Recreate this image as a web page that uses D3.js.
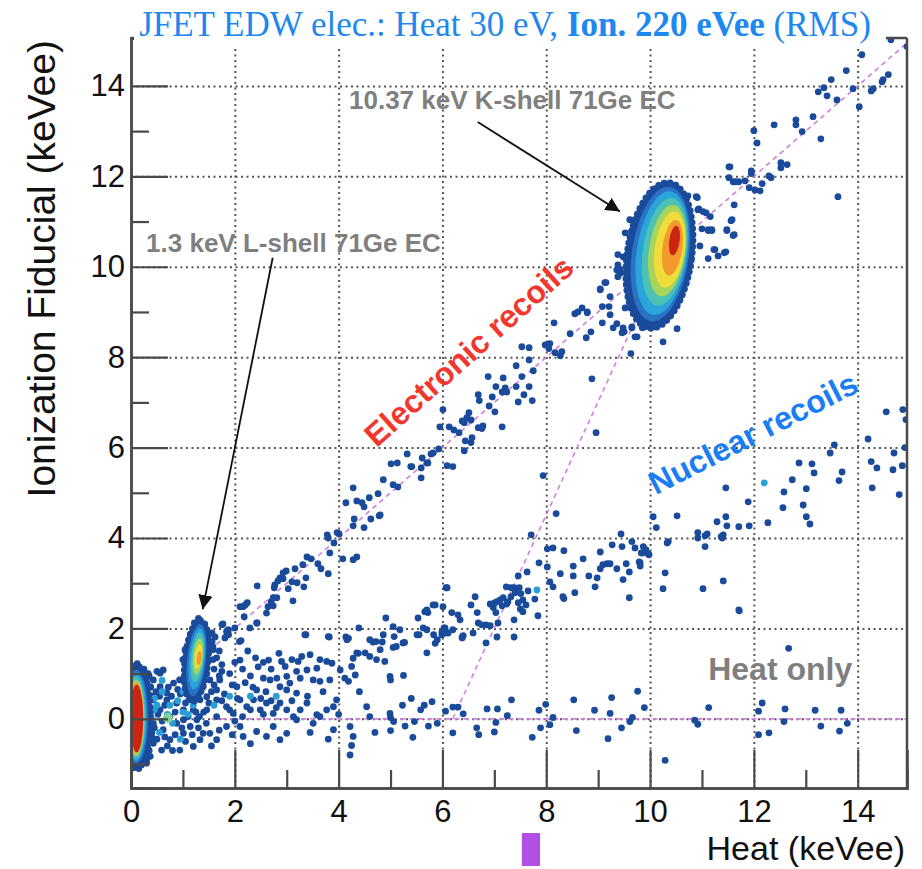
<!DOCTYPE html>
<html>
<head>
<meta charset="utf-8">
<script src="https://cdn.jsdelivr.net/npm/d3@7"></script>
<style>
body { margin: 0; background: #fff; }
svg { display: block; font-family: "Liberation Sans", Arial, Helvetica, sans-serif; }
</style>
</head>
<body>
<svg width="922" height="869"></svg>
<script>
// tick values
var xMajor = [0, 2, 4, 6, 8, 10, 12, 14],
    xMinor = [1, 3, 5, 7, 9, 11, 13],
    yMajor = [0, 2, 4, 6, 8, 10, 12, 14],
    yMinor = [-1, 1, 3, 5, 7, 9, 11, 13];

// event populations, [heat, ionization] in keVee
var erBand = [
  [1.77,2.10],[1.87,1.97],[1.85,1.86],[1.81,1.79],[1.62,1.81],[1.56,1.70],[1.58,1.59],
  [2.12,1.73],[2.00,2.01],[2.43,2.12],[2.29,2.01],[2.18,2.26],[2.10,2.48],[2.16,2.48],[2.24,2.57],[2.43,2.94],
  [2.61,2.34],[2.74,2.50],[2.20,2.52],[2.74,2.68],[2.70,2.59],[2.64,2.48],[2.81,2.68],
  [3.33,2.92],[3.37,3.12],[3.03,2.88],[3.12,2.61],[3.16,3.32],[2.99,3.27],[2.93,3.23],[2.87,3.12],
  [2.83,3.05],[2.93,3.10],[2.77,2.96],[2.76,2.90],[3.10,3.03],[3.20,3.01],
  [3.39,3.58],[3.47,3.54],[3.31,3.41],[3.60,3.43],[3.66,3.32],[3.80,3.21],
  [3.83,3.67],[4.08,3.54],[4.28,3.52],[4.35,3.58],[3.78,4.07],[3.80,4.00],[3.97,4.12],[4.01,4.09],[3.91,3.89],
  [4.30,4.42],[4.28,4.27],[4.49,4.23],[4.62,4.42],[4.78,4.49],[4.80,4.51],
  [4.14,4.78],[4.35,4.82],[4.45,4.78],[4.49,4.69],[4.59,4.89],[4.76,4.98],
  [4.28,5.11],[4.86,5.29],[5.05,5.18],[5.14,5.13],[5.01,5.64],[5.13,5.66],[5.39,5.58],[5.59,5.55],[5.72,5.66],
  [5.32,5.86],[5.41,5.58],[5.61,5.77],[5.70,5.66],[5.59,5.33],[6.09,5.60],[6.20,5.58],
  [5.93,5.97],[5.82,5.88],[5.78,5.86],[6.44,6.15],[6.57,6.22],[6.55,6.11],[6.42,5.93],
  [5.95,6.46],[6.13,6.46],[6.22,6.39],[6.32,6.33],[6.69,6.44],[6.78,6.48],[6.76,6.42],
  [6.51,6.77],[6.47,6.66],[6.38,6.59],[6.42,6.55],[6.55,6.61],[6.01,6.84],
  [7.15,6.46],[6.69,7.17],[6.71,7.04],[6.96,7.12],[6.90,6.92],[7.01,6.79],
  [7.21,7.32],[7.24,7.23],[7.15,7.23],[7.17,7.54],[7.03,7.35],[6.88,7.57],
  [7.67,7.35],[7.57,7.17],[7.46,7.01],[7.42,7.35],[7.73,7.04],
  [7.67,7.94],[7.75,7.70],[7.53,7.57],[7.42,7.81],[7.53,8.23],[7.67,8.21],
  [7.98,8.27],[8.07,8.30],[8.05,8.19],[8.17,8.10],[8.27,8.03],[8.30,8.12],
  [8.15,8.76],[8.46,8.52],[8.55,8.96],[8.61,9.00],[8.69,9.09],[8.79,8.98],[8.77,8.43],[8.86,8.56],
  [9.08,8.76],[9.29,8.65],[9.36,8.74],[9.50,8.56],[9.65,8.67],[9.75,8.45],[9.85,8.65],
  [9.52,9.09],[9.61,9.27],[9.73,9.00],[9.63,8.08],[9.04,9.51],[9.15,9.65],[9.38,10.04],[9.42,9.85],[9.21,9.12],
  [8.88,7.52],[8.96,6.33],[7.94,5.38],
  [14.64,15.02],[14.95,14.87],[13.78,14.34],[13.49,14.14],[13.35,13.96],[13.24,13.87],[13.41,13.78],[13.60,13.69],
  [13.91,13.94],[14.03,13.54],[14.26,13.89],[14.30,13.94],[14.49,14.14],[14.47,14.09],[14.59,14.25],[14.08,14.69],
  [13.14,13.32],[12.81,13.25],[12.81,13.14],[12.93,12.99],[13.29,12.83],[12.39,13.14],[12.00,13.01],[12.06,12.74],
  [11.52,12.21],[12.52,12.30],[12.64,12.26],[12.52,12.19],[11.95,12.12],[11.95,12.06],[11.52,11.97],
  [11.64,11.88],[11.71,11.88],[11.83,11.90],[11.91,11.75],[12.02,11.70],[12.12,11.68],[12.16,11.84],
  [12.29,12.01],[12.33,11.97],[13.62,11.55],[11.62,11.37],[10.94,11.28],[11.08,11.19],[11.16,11.11],
  [11.56,11.02],[11.00,10.84],[11.12,10.80],[11.19,10.80],[11.48,10.80],[11.60,10.69],[11.62,10.71],
  [10.96,10.46],[11.23,10.38],[11.31,10.24],[11.46,10.33],[11.12,10.18]
];

var kShellEdge = [
  [9.61,11.04],[9.52,10.75],[9.48,10.22],[9.42,9.93],[9.38,9.78],[9.56,9.65],[9.65,9.49],[9.61,9.34],
  [9.75,9.20],[9.81,8.89],[10.06,8.78],[10.19,8.76],[10.52,8.63],[10.25,8.34],[10.91,11.53],[10.92,11.26],
  [11.02,11.22],[11.12,10.82],[11.19,10.82],[11.54,12.21],[11.60,11.88],[11.58,11.04],[11.48,10.82],
  [11.25,10.38],[11.43,10.31],[9.04,9.49],[9.13,9.65],[9.23,9.34],[9.08,9.12],[8.79,9.00],
  [9.23,8.94],[9.48,8.65],[9.65,8.65],[9.46,8.54],[9.71,8.45],[9.36,9.93],[9.38,10.27],[10.73,11.57],[10.89,11.55]
];

var nrBand = [
  [3.37,1.86],[3.82,1.81],[4.14,1.81],[4.39,2.01],[4.60,1.75],[4.66,1.70],[4.86,1.86],[4.91,2.23],
  [5.05,2.04],[5.07,1.82],[5.18,1.97],[5.24,1.68],[5.53,2.23],[5.66,2.37],[5.72,2.35],[5.55,1.86],
  [5.70,1.46],[5.82,2.52],[5.90,1.75],[5.99,1.86],[6.05,2.01],[6.09,2.90],[6.11,1.90],[4.84,1.70],
  [4.16,1.75],[4.35,1.46],[4.51,1.46],[5.11,1.60],[5.27,1.69],[5.51,1.86],[5.63,2.01],[5.70,1.97],
  [5.83,1.86],[5.86,1.67],[5.86,2.52],[5.70,2.41],
  [8.19,4.54],[7.71,4.07],[8.02,3.76],[8.13,3.78],[8.34,3.72],[8.71,3.54],[9.04,3.69],[9.27,3.85],
  [9.44,4.09],[9.46,3.81],[9.65,3.92],[9.71,3.78],[9.83,3.67],[9.92,3.74],[9.96,3.65],
  [7.86,3.45],[7.63,3.25],[7.46,3.16],[8.02,3.36],[8.27,3.21],[8.52,3.38],[8.52,3.16],[8.82,3.16],
  [8.98,3.12],[9.04,3.32],[9.09,3.41],[9.17,3.43],[9.23,3.43],[9.36,3.32],[9.54,3.43],[9.60,3.25],
  [9.48,3.08],[9.79,3.47],[9.81,3.38],[8.07,3.03],[8.13,2.92],[8.32,2.70],[8.34,2.66],[8.55,2.79],
  [8.94,2.92],[9.60,2.68],
  [7.23,2.92],[7.32,2.90],[7.38,2.90],[7.48,2.90],[7.40,2.79],[7.51,2.77],[7.55,2.63],[7.65,2.83],
  [7.78,2.65],[7.84,2.28],[7.61,2.52],[7.46,2.57],[7.50,2.43],[7.55,2.37],[7.38,2.19],[7.32,2.70],
  [7.26,2.59],[7.17,2.68],[7.11,2.63],[7.05,2.59],[7.01,2.57],[6.92,2.54],[6.98,2.46],[7.15,2.50],
  [7.24,2.54],[7.03,2.35],[6.63,2.70],[6.55,2.52],[6.67,2.35],[6.69,2.12],[6.84,2.08],[6.92,2.06],
  [6.76,2.08],[6.59,1.90],[6.38,1.81],[6.40,1.84],[7.05,1.81],[6.84,1.68],[7.38,1.81],[7.07,2.12],
  [6.07,2.90],[6.01,2.48],[6.18,2.35],[6.30,2.30],[6.34,2.19],[6.03,2.01],[5.99,1.92],[6.09,1.90],
  [6.20,1.97],[6.38,1.79],
  [14.55,6.79],[14.87,6.84],[14.93,6.62],[14.91,6.00],[14.86,5.60],[14.70,5.88],[14.68,5.51],[14.80,4.96],
  [14.37,5.55],[14.26,5.69],[14.28,5.11],[14.20,6.19],[13.55,6.06],[13.47,5.88],[13.70,5.46],[13.64,5.27],
  [13.16,5.44],[13.12,5.64],[12.87,5.66],[12.74,5.29],[13.01,5.09],[12.58,5.02],[12.56,4.67],[12.95,4.73],
  [13.01,4.47],[13.08,4.31],[12.27,4.34],[11.89,4.80],[11.91,4.27],[11.71,4.25],[11.48,4.27],[11.46,4.47],
  [11.46,5.11],[11.29,4.36],[11.41,4.07],[11.39,4.00],[11.37,4.03],[11.10,4.09],[11.06,4.05],[10.92,4.12],
  [10.92,4.00],[11.06,3.81],[10.52,4.49],[10.35,3.92],[10.33,3.89],[10.12,4.23],[10.06,4.47],[9.98,3.63],
  [9.87,3.81],[9.85,3.67],[9.81,3.45],[10.29,3.23],[10.25,2.88],[11.02,2.88],[11.41,3.05],[11.71,2.41]
];

var heatOnly = [
  [5.00,0.03],[5.06,-0.06],[5.00,-0.26],[5.28,-0.16],[5.43,-0.41],[5.46,-0.06],[5.73,-0.16],[5.90,-0.10],
  [6.20,-0.31],[6.40,0.11],[6.66,-0.20],[6.70,-0.35],[6.86,0.22],[7.03,-0.08],[7.06,0.22],[7.00,-0.29],
  [7.25,0.07],[7.33,0.42],[7.73,-0.41],[7.86,0.19],[7.89,-0.20],[7.99,0.32],[8.07,-0.13],[8.13,0.03],
  [8.53,0.42],[8.58,-0.26],[8.93,0.19],[9.19,-0.44],[9.23,0.12],[9.26,0.47],[9.45,-0.20],[9.61,-0.06],
  [9.66,0.03],[9.76,0.61],[9.89,0.25],[10.29,-0.92],[10.86,-0.03],[10.92,-0.12],[11.13,0.25],[12.09,0.17],
  [12.16,0.35],[12.09,-0.35],[12.29,-0.31],[12.58,-0.06],[12.60,0.22],[13.18,0.19],[13.29,-0.16],[13.65,-0.27],
  [13.68,0.19],[13.80,-0.10],[12.67,1.56],[11.72,2.39],[5.23,0.30],[5.40,0.45],[5.58,0.20],[5.65,0.30],
  [5.80,0.38],[6.06,0.17],[6.20,0.26],[6.30,0.26],[5.25,0.96],[5.00,0.86]
];

var lowEnergy = [
  [1.84,1.93],[1.88,1.86],[2.09,1.71],[2.42,2.12],[3.35,1.86],[3.80,1.82],[4.19,1.78],[4.72,1.71],[5.05,1.58],
  [2.90,1.27],[2.97,1.16],[3.10,1.31],[3.22,1.27],[3.29,1.38],[3.45,1.42],[3.64,1.31],[3.77,1.27],[3.87,1.23],
  [3.58,1.12],[3.39,1.08],[3.19,1.05],[3.00,0.94],[2.81,0.90],[2.68,0.86],[2.87,0.71],[3.06,0.79],[3.26,0.90],
  [3.51,0.86],[3.64,0.83],[3.83,0.86],[4.03,1.08],[4.12,0.90],[4.25,1.16],[4.38,1.45],[4.28,1.34],[4.19,0.83],
  [4.32,0.97],[4.60,1.38],[4.73,1.31],[4.80,1.53],[4.99,0.94],[4.89,1.27],
  [1.46,0.20],[1.65,0.05],[1.84,0.27],[1.97,0.12],[2.10,0.42],[2.23,0.27],[2.36,0.42],[2.49,0.20],[2.61,0.35],
  [2.74,0.12],[2.87,0.35],[3.00,0.20],[3.13,0.05],[3.26,0.20],[3.39,0.35],[3.58,0.09],[3.77,0.20],[3.90,0.27],
  [3.96,0.42],[3.19,0.57],[3.00,0.64],[2.42,0.64],[2.04,0.71],[1.84,-0.17],[2.10,-0.17],[2.16,-0.39],[2.42,-0.28],
  [2.61,-0.39],[2.74,-0.17],[2.87,-0.46],[3.00,-0.32],[3.19,-0.02],[3.51,-0.10],[3.64,0.05],[3.90,-0.24],
  [4.22,-0.17],[4.28,-0.39],[4.25,-0.59],[4.22,-0.80],[4.54,0.27],[4.99,0.12],[1.65,-0.46],[1.52,-0.32],
  [1.33,-0.46],[1.39,-0.32],[1.20,-0.61],[0.94,-0.69],[1.01,-0.32],[1.14,-0.17],[1.27,-0.02],[0.59,-0.69],
  [0.43,-0.54],[0.75,-0.46],[0.37,-0.83],[0.30,-0.98],
  [0.43,0.86],[0.56,0.71],[0.69,0.57],[0.82,0.79],[0.94,0.86],[1.07,0.64],[0.69,0.42],[0.88,0.35],[1.01,0.20],
  [1.14,0.42],[1.27,0.64],[0.75,0.05],[0.56,0.20],[0.43,-0.10],[0.62,-0.24],[0.88,-0.10],[1.01,-0.02],
  [0.43,0.42],[0.37,0.71],[0.56,1.01],[1.07,1.01],[1.33,0.94],[1.39,0.71],[1.46,0.49],[1.52,0.86],[1.65,0.64],
  [1.65,0.42],[1.71,0.86],[1.33,0.42],[1.20,0.20],[0.62,1.08],
  [1.60,1.10],[1.75,1.20],[1.90,1.00],[2.00,1.25],[2.15,1.10],[2.30,0.95],[2.45,1.15],[2.55,0.90],[1.70,0.95],
  [1.95,0.75],[2.20,0.80],[2.35,0.70],[2.60,0.60],[1.80,0.55],[2.05,0.45],[2.50,0.45],[1.55,0.60],[2.40,1.35],
  [2.70,1.10],[2.65,1.30],
  [0.35,0.95],[0.50,1.05],[0.48,0.60],[0.52,0.10],[0.60,-0.05],[0.65,0.30],[0.72,0.70],[0.78,0.50],[0.85,0.15],
  [0.95,0.55],[0.98,-0.20],[1.05,0.35],[1.10,0.05],[1.18,-0.35],[1.25,0.15],[1.32,0.05],[1.40,0.15],[1.45,-0.10],
  [1.50,0.35],[0.40,-0.30],[0.50,-0.45],[0.65,-0.40],[0.70,-0.60],[0.85,-0.35],[0.80,-0.70],[1.05,-0.50],
  [1.30,-0.20],[0.55,0.50],[0.90,0.65],[1.60,0.75],[1.75,0.40],[1.90,0.20],[2.00,-0.05],[2.15,0.05],[2.30,0.20],
  [2.55,0.10],[2.70,0.40],[2.80,0.25],[1.70,-0.25],[1.95,-0.35],[2.30,-0.55],[1.55,-0.60],[1.75,1.05],[2.10,1.30],
  [2.25,1.50],[2.55,1.25],[2.85,1.45],[1.70,1.50],[1.65,1.35],[3.10,0.40],[3.40,0.50],[3.70,0.60],[3.45,-0.30],
  [3.80,-0.45],[4.00,0.10],[4.40,0.60],[4.60,0.05],[4.70,-0.30]
];

var zeroPeakEdge = [
  [0.30,-0.90],[0.35,-0.70],[0.30,0.90],[0.25,1.10],[0.12,1.22],[0.05,-1.08],[0.20,-1.02],[0.40,-0.40],
  [0.40,0.50],[0.35,0.20],[0.45,-0.20],[0.30,-0.50],[0.38,0.70],[0.15,-1.10],[0.28,-0.95],[0.33,1.00]
];

var lShellEdge = [
  [1.49,1.82],[1.58,1.53],[1.58,1.31],[1.56,1.90],[1.04,1.53],[1.00,1.31],[1.75,2.08],[1.30,2.22],
  [1.22,2.12],[1.40,2.10],[1.12,1.75],[1.46,1.00],[1.10,0.95]
];

var tealPoints = [
  [0.50,0.30],[0.70,0.10],[0.90,0.40],[1.00,0.60],[1.10,0.80],[0.60,0.60],[1.20,0.30],[0.40,0.00],
  [0.80,-0.10],[1.60,0.30],[1.90,0.50],[2.30,0.50],[2.80,0.50],[0.55,-0.30],[1.00,0.15],[1.15,0.55],
  [1.25,0.90],[0.45,0.45],[0.60,0.85],[0.75,0.30],[1.10,0.10],[0.45,0.20],[0.95,-0.45],[7.82,2.85],[12.20,5.22]
];
var greenPoints = [[0.71,0.02]];

// density contours of the peaks: [heat, ion, halfWidth, halfHeight, tilt (deg), level]
var zeroPeak = [
  [0.10,0.06,0.27,1.12,0,0],[0.10,0.05,0.23,1.04,0,1],[0.10,0.04,0.20,0.97,0,2],[0.10,0.03,0.175,0.90,0,3],
  [0.10,0.02,0.155,0.84,0,4],[0.10,0.02,0.14,0.79,0,6],[0.11,0.01,0.125,0.75,0,7]
];
var lShellPeak = [
  [1.26,1.28,0.22,0.90,6,0],[1.26,1.30,0.18,0.80,6,1],[1.27,1.33,0.15,0.68,6,2],[1.28,1.36,0.12,0.55,6,3],
  [1.29,1.38,0.095,0.40,6,4],[1.30,1.38,0.07,0.27,6,5],[1.31,1.34,0.045,0.16,6,6]
];
var kShellPeak = [
  [10.18,10.25,0.62,1.62,8,0],[10.20,10.28,0.55,1.50,8,1],[10.23,10.30,0.49,1.38,8,2],[10.28,10.33,0.42,1.20,8,3],
  [10.33,10.36,0.35,1.02,8,4],[10.38,10.38,0.29,0.85,8,5],[10.43,10.42,0.19,0.62,8,6],[10.47,10.58,0.10,0.33,8,7]
];

// selection lines
var erLine = [[0.6,0.6],[15,15]],
    hoLine = [[1.55,0],[15,0]],
    nrLine = [[6.2,0],[9.95,9.4]];

var palette = ["#1a4b9b","#2a72c4","#2aa5dc","#4cc2b4","#a8d45a","#f0dc3a","#f29a2b","#cc2412"];

var svg = d3.select("svg"),
    margin = {top: 38, right: 15, bottom: 81, left: 131},
    width = +svg.attr("width") - margin.left - margin.right,
    height = +svg.attr("height") - margin.top - margin.bottom;

var x = d3.scaleLinear().domain([0, 14.95]).range([0, width]),
    y = d3.scaleLinear().domain([-1.53, 15.06]).range([height, 0]);

svg.append("defs").append("clipPath")
    .attr("id", "clip")
  .append("rect")
    .attr("width", width)
    .attr("height", height);

var marker = svg.select("defs").append("marker")
    .attr("id", "head")
    .attr("viewBox", "0 0 10 10")
    .attr("refX", 10).attr("refY", 5)
    .attr("markerWidth", 8).attr("markerHeight", 8)
    .attr("markerUnits", "strokeWidth")
    .attr("orient", "auto");
marker.append("path").attr("d", "M0,0 L10,5 L0,10 z").attr("fill", "#111");

var g = svg.append("g").attr("transform", "translate(" + margin.left + "," + margin.top + ")");

// grid (dotted)
g.append("g").attr("class", "grid")
    .attr("transform", "translate(0," + height + ")")
    .call(d3.axisBottom(x).tickValues(xMajor.slice(1)).tickSize(-height).tickFormat(""));
g.append("g").attr("class", "grid")
    .call(d3.axisLeft(y).tickValues(yMajor).tickSize(-width).tickFormat(""));
g.selectAll(".grid .domain").remove();
g.selectAll(".grid line")
    .attr("stroke", "#555")
    .attr("stroke-width", 2)
    .attr("stroke-dasharray", "2,3.5");

var plot = g.append("g").attr("clip-path", "url(#clip)");

var line = d3.line().x(function(d) { return x(d[0]); }).y(function(d) { return y(d[1]); });
[erLine, hoLine, nrLine].forEach(function(l) {
  plot.append("path")
      .attr("d", line(l))
      .attr("fill", "none")
      .attr("stroke", "#d27fe0")
      .attr("stroke-width", 1.6)
      .attr("stroke-dasharray", "5,4");
});

function dots(data, color, r) {
  plot.append("g").selectAll("circle")
      .data(data)
      .enter().append("circle")
        .attr("cx", function(d) { return x(d[0]); })
        .attr("cy", function(d) { return y(d[1]); })
        .attr("r", r)
        .attr("fill", color);
}

function peak(layers) {
  var pg = plot.append("g");
  layers.forEach(function(d, i) {
    var cx = x(d[0]), cy = y(d[1]);
    var e = pg.append("ellipse")
        .attr("cx", cx).attr("cy", cy)
        .attr("rx", x(d[0] + d[2]) - cx)
        .attr("ry", cy - y(d[1] + d[3]))
        .attr("transform", "rotate(" + d[4] + "," + cx + "," + cy + ")")
        .attr("fill", palette[d[5]]);
    if (i === 0) {
      e.attr("stroke", palette[0]).attr("stroke-width", 7)
       .attr("stroke-dasharray", "0,6").attr("stroke-linecap", "round");
    }
  });
}

dots(lowEnergy, palette[0], 3.4);
dots(erBand, palette[0], 3.4);
dots(nrBand, palette[0], 3.4);
dots(heatOnly, palette[0], 3.4);
dots(zeroPeakEdge, palette[0], 3.4);
dots(lShellEdge, palette[0], 3.4);
dots(kShellEdge, palette[0], 3.4);
dots(tealPoints, "#2a9fd6", 3.4);
dots(greenPoints, "#7fd39a", 5);

peak(zeroPeak);
peak(lShellPeak);
peak(kShellPeak);

// axes
var axisColor = "#4a4a4a";
g.append("g").attr("transform", "translate(0," + height + ")")
    .call(d3.axisBottom(x).tickValues(xMajor).tickSize(-38).tickPadding(12).tickFormat(d3.format("d")));
g.append("g").attr("transform", "translate(0," + height + ")")
    .call(d3.axisBottom(x).tickValues(xMinor).tickSize(-18).tickFormat(""));
g.append("g")
    .call(d3.axisLeft(y).tickValues(yMajor).tickSize(-37).tickPadding(6).tickFormat(d3.format("d")));
g.append("g")
    .call(d3.axisLeft(y).tickValues(yMinor).tickSize(-18).tickFormat(""));
g.selectAll(".domain").attr("stroke", axisColor).attr("stroke-width", 2.5);
g.selectAll(".tick line").filter(function() { return !this.parentNode.parentNode.classList.contains("grid"); })
    .attr("stroke", axisColor).attr("stroke-width", 2.2);
g.selectAll(".tick text").attr("font-size", 31).attr("fill", "#111")
    .attr("font-family", "Liberation Sans, Arial, sans-serif");

// frame
g.append("line").attr("x1", width).attr("x2", width).attr("y1", 0).attr("y2", height)
    .attr("stroke", axisColor).attr("stroke-width", 2.5);
g.append("line").attr("x1", 0).attr("x2", width).attr("y1", 0).attr("y2", 0)
    .attr("stroke", axisColor).attr("stroke-width", 2.5);

// axis titles
svg.append("text")
    .attr("transform", "translate(55," + (margin.top + 2) + ") rotate(-90)")
    .attr("text-anchor", "end")
    .attr("font-size", 39)
    .attr("fill", "#111")
    .text("Ionization Fiducial (keVee)");
svg.append("text")
    .attr("x", 905).attr("y", 860)
    .attr("text-anchor", "end")
    .attr("font-size", 34)
    .attr("fill", "#111")
    .text("Heat (keVee)");

// title
svg.append("rect").attr("x", 134).attr("y", 0).attr("width", 752).attr("height", 48).attr("fill", "#fff");
var title = svg.append("text")
    .attr("x", 505).attr("y", 36)
    .attr("text-anchor", "middle")
    .attr("font-family", "Liberation Serif, Times New Roman, serif")
    .attr("font-size", 35)
    .attr("fill", "#1e88f0");
title.append("tspan").text("JFET EDW elec.: Heat 30 eV, ");
title.append("tspan").attr("font-weight", "bold").text("Ion. 220 eVee");
title.append("tspan").text(" (RMS)");

// annotations
var notes = [
  {text: "10.37 keV K-shell 71Ge EC", at: [4.2, 13.5], color: "#7f7f7f", size: 26, angle: 0, anchor: "start"},
  {text: "1.3 keV L-shell 71Ge EC", at: [0.29, 10.33], color: "#7f7f7f", size: 26, angle: 0, anchor: "start"},
  {text: "Heat only", at: [11.12, 0.86], color: "#7f7f7f", size: 32, angle: 0, anchor: "start"},
  {text: "Electronic recoils", at: [6.65, 7.95], color: "#f2382e", size: 32, angle: -41.7, anchor: "middle"},
  {text: "Nuclear recoils", at: [12.08, 6.1], color: "#1a7ef2", size: 32, angle: -27, anchor: "middle"}
];
g.selectAll(".note")
    .data(notes)
    .enter().append("text")
      .attr("class", "note")
      .attr("transform", function(d) { return "translate(" + x(d.at[0]) + "," + y(d.at[1]) + ") rotate(" + d.angle + ")"; })
      .attr("text-anchor", function(d) { return d.anchor; })
      .attr("font-weight", "bold")
      .attr("font-size", function(d) { return d.size; })
      .attr("fill", function(d) { return d.color; })
      .text(function(d) { return d.text; });

var arrows = [[[6.68, 13.2], [9.42, 11.22]], [[2.73, 10.2], [1.38, 2.42]]];
g.selectAll(".arrow")
    .data(arrows)
    .enter().append("path")
      .attr("class", "arrow")
      .attr("d", function(d) { return line(d); })
      .attr("stroke", "#111")
      .attr("stroke-width", 1.8)
      .attr("marker-end", "url(#head)");

// marker below the axis
svg.append("rect")
    .attr("x", margin.left + x(7.53)).attr("y", 833)
    .attr("width", x(7.88) - x(7.53)).attr("height", 33)
    .attr("fill", "#b24fe4");
</script>
</body>
</html>
